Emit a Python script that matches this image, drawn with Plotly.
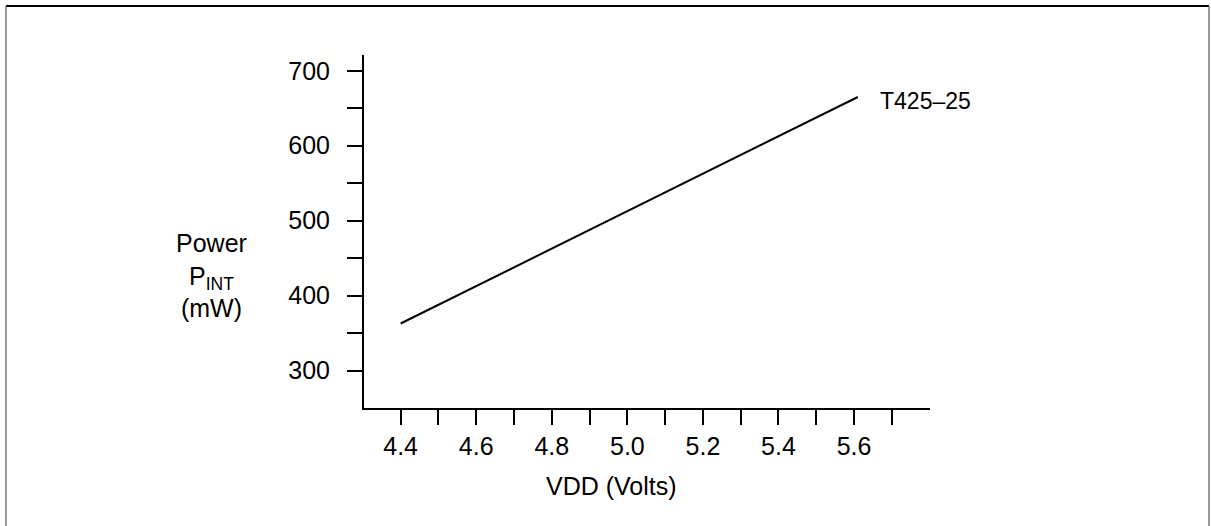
import plotly.graph_objects as go

# VDD (Volts) vs internal power (mW)
vdd = [4.4, 5.0, 5.61]
power = [363, 513, 665]
series_name = "T425–25"

x_major = [4.4, 4.6, 4.8, 5.0, 5.2, 5.4, 5.6]
x_labels = ["4.4", "4.6", "4.8", "5.0", "5.2", "5.4", "5.6"]
x_minor = [4.5, 4.7, 4.9, 5.1, 5.3, 5.5, 5.7]
y_major = [300, 400, 500, 600, 700]
y_minor = [350, 450, 550, 650]

FONT = "Liberation Sans, Arial, Helvetica, sans-serif"
FS = 25
W, H = 1211, 526
L, R, T, B = 364, 281, 55, 118


def px_to_paper(px, py):
    # page pixel -> paper coords of the plot area
    pw, ph = W - L - R, H - T - B
    return (px - L) / pw, (H - B - py) / ph


fig = go.Figure()
fig.add_trace(go.Scatter(
    x=vdd, y=power, mode="lines", name=series_name,
    line=dict(color="black", width=2), showlegend=False,
))

axis_common = dict(
    showgrid=False, zeroline=False, showline=True, linecolor="black",
    linewidth=2, ticks="outside", ticklen=15, tickwidth=2, tickcolor="black",
    tickfont=dict(family=FONT, size=FS, color="black"),
)

fig.update_xaxes(
    range=[4.303, 5.801], tickvals=x_major, ticktext=x_labels,
    ticklabelstandoff=0,
    minor=dict(tickvals=x_minor, ticks="outside", ticklen=15, tickwidth=2,
               tickcolor="black"),
    **axis_common,
)
fig.update_yaxes(
    range=[250.3, 721], tickvals=y_major,
    ticklabelstandoff=12,
    minor=dict(tickvals=y_minor, ticks="outside", ticklen=15, tickwidth=2,
               tickcolor="black"),
    **axis_common,
)

ax, ay = px_to_paper(211, 275)
tx, ty = px_to_paper(611, 486)
annotations = [
    dict(text="Power<br>P<sub>INT</sub><br>(mW)", x=ax, y=ay, xref="paper",
         yref="paper", xanchor="center", yanchor="middle", align="center",
         showarrow=False, font=dict(family=FONT, size=FS, color="black")),
    dict(text="VDD (Volts)", x=tx, y=ty, xref="paper", yref="paper",
         xanchor="center", yanchor="middle", showarrow=False,
         font=dict(family=FONT, size=FS, color="black")),
    dict(text=series_name, x=vdd[-1], y=power[-1], xref="x", yref="y",
         xanchor="left", yanchor="middle", xshift=20, yshift=-4,
         showarrow=False, font=dict(family=FONT, size=23, color="black")),
]

# frame around the figure (bottom edge runs off the page)
fx0, fy0 = px_to_paper(6, 6)
fx1, fy1 = px_to_paper(1209, 540)
shapes = [
    dict(type="line", xref="paper", yref="paper", x0=fx0, x1=fx1, y0=fy0, y1=fy0,
         line=dict(color="black", width=2)),
    dict(type="line", xref="paper", yref="paper", x0=fx0, x1=fx0, y0=fy0, y1=fy1,
         line=dict(color="#777777", width=1.5)),
    dict(type="line", xref="paper", yref="paper", x0=fx1, x1=fx1, y0=fy0, y1=fy1,
         line=dict(color="#777777", width=1.5)),
]

fig.update_layout(
    width=W, height=H,
    margin=dict(l=L, r=R, t=T, b=B, pad=0),
    paper_bgcolor="white", plot_bgcolor="white",
    annotations=annotations, shapes=shapes,
    font=dict(family=FONT, color="black"),
)

# drop the default body margin so the figure sits at the page corner
fig.write_html("out.html", config={"displayModeBar": False},
               post_script="document.body.style.margin='0';")
